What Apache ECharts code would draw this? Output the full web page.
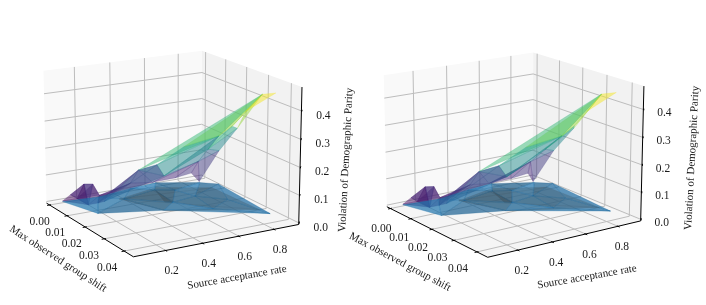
<!DOCTYPE html>
<html><head><meta charset="utf-8">
<style>html,body{margin:0;padding:0;background:#fff}#c{width:706px;height:305px}</style>
<script src="https://cdn.jsdelivr.net/npm/echarts@6/dist/echarts.min.js"></script>
</head><body><div id="c"></div>
<script>
// ---- data ----
const shiftTicks = [0, 0.01, 0.02, 0.03, 0.04];
const rateTicks = [0.2, 0.4, 0.6, 0.8];
const parityTicks = [0, 0.1, 0.2, 0.3, 0.4];
const shiftLabels = ['0.00', '0.01', '0.02', '0.03', '0.04'];
const rateLabels = ['0.2', '0.4', '0.6', '0.8'];
const parityLabels = ['0.0', '0.1', '0.2', '0.3', '0.4'];
const shiftLabelText = 'Max observed group shift';
const rateLabelText = 'Source acceptance rate';
const parityLabelText = 'Violation of Demographic Parity';
// viridis surface nodes
const shiftUpper = [0.0003,0.0021,0.0019,0.0059,0.0070,0.0063,0.0079,0.0069,0.0083,0.0091,0.0124,0.0189,0.0232,0.0308,0.0361,0.0050,0.0109,0.0196,0.0114,0.0320,0.0220,0.0069,0.0034,0.0113,0.0154,0.0326,0.0336,0.0000];
const rateUpper  = [0.100,0.128,0.167,0.167,0.205,0.249,0.224,0.180,0.276,0.397,0.408,0.441,0.544,0.900,0.908,0.850,0.898,0.898,0.224,0.637,0.446,0.681,0.588,0.727,0.777,0.705,0.769,0.903];
const parityUpper= [0.002,0.030,0.010,0.080,0.080,0.030,0.010,0.005,0.040,0.070,0.130,0.170,0.240,0.420,0.440,0.010,0.146,0.260,0.030,0.300,0.140,0.050,0.030,0.080,0.180,0.330,0.380,0.065];
const trianglesUpper = [[0,1,2],[0,2,7],[2,3,7],[2,3,7],[1,3,2],[1,3,7],[3,4,7],[3,4,7],[4,5,7],[4,5,2],[5,6,7],[5,8,6],[8,18,6],[5,9,8],[5,9,6],[8,10,18],[8,9,10],[9,22,8],[10,11,18],[11,20,18],[9,22,10],[10,22,20],[10,20,11],[22,21,27],[21,23,27],[23,15,27],[27,15,16],[27,16,24],[16,17,24],[24,17,25],[17,13,26],[22,27,20],[20,27,19],[20,19,24],[24,25,19],[10,13,19],[11,12,19],[12,13,19],[20,11,19],[19,13,25],[25,13,26],[13,14,26]];
// blue surface nodes
const shiftLower = [0.0003,0.0137,0.0198,0.0350,0.0093,0.0068,0.0021,0.0031,0.0035,0.0085,0.0074,0.0149,0.0152,0.0249,0.0208,0.0082];
const rateLower  = [0.100,0.163,0.470,0.902,0.915,0.831,0.620,0.460,0.271,0.366,0.555,0.577,0.704,0.694,0.830,0.667];
const parityLower= [0.000,0.002,0.002,0.000,0.010,0.015,0.020,0.020,0.010,0.012,0.020,0.000,0.010,0.002,0.005,0.010];
const trianglesLower = [[0,1,8],[1,9,8],[1,2,9],[8,9,7],[7,9,10],[7,10,6],[9,11,10],[9,2,11],[10,11,15],[6,10,15],[6,15,5],[11,12,15],[15,12,5],[5,12,4],[2,13,11],[11,13,12],[12,14,4],[12,13,14],[14,3,4],[13,3,14],[2,3,13]];
// low sheet seen through the blue surface
const shiftBase = [0.0065,0.0207,0.0317,0.0102,0.0026,0.0052,0.0162,0.0147];
const rateBase  = [0.360,0.470,0.881,0.868,0.615,0.587,0.563,0.533];
const parityBase= [0.004,0.004,0.004,0.004,0.004,0.005,0.005,0.005];
const trianglesBase = [[0,1,2],[0,2,3],[0,3,4],[5,6,7],[5,6,7]];
const viridisStops = ['#440154','#482878','#3e4989','#31688e','#26828e','#1f9e89','#35b779','#6ece58','#b5de2b','#fde725'];
const panels = [
  {elev:16, azim:-30, scale:157, cx:170, cy:147,
   zLab:[22,5], xLabStart:[-10,17], xLabEnd:[-17,17], yLab:[6,21],
   xTitle:[58,259,-33], yTitle:[237,277.5,10], zTitle:[346,160,87]},
  {elev:16, azim:-35, scale:155, cx:512, cy:148,
   zLab:[21,4], xLabStart:[-9,20], xLabEnd:[-19,17], yLab:[4,21],
   xTitle:[400,262,-28], yTitle:[587,277,10], zTitle:[692,158,87]}
];
const xLim = [-0.0018, 0.0445], yLim = [0.03, 0.944], zLim = [-0.006, 0.483];
const fontFamily = '"Liberation Serif", "Times New Roman", serif';

function makeProjector(p) {
  const el = p.elev * Math.PI / 180, az = p.azim * Math.PI / 180;
  const e = [Math.cos(el)*Math.cos(az), Math.cos(el)*Math.sin(az), Math.sin(el)];
  const r = [-Math.sin(az), Math.cos(az), 0];
  const u = [-Math.sin(el)*Math.cos(az), -Math.sin(el)*Math.sin(az), Math.cos(el)];
  const dot = (a,b)=>a[0]*b[0]+a[1]*b[1]+a[2]*b[2];
  return function (x, y, z) {
    const P = [((x-xLim[0])/(xLim[1]-xLim[0])-0.5)*1.19,
               ((y-yLim[0])/(yLim[1]-yLim[0])-0.5)*1.19,
               ((z-zLim[0])/(zLim[1]-zLim[0])-0.5)*0.893];
    const d = dot(P,e), f = 10/(10-d);
    return {sx:p.cx+p.scale*f*dot(P,r), sy:p.cy-p.scale*f*dot(P,u), d};
  };
}
function viridis(t){
  t=Math.max(0,Math.min(1,t))*(viridisStops.length-1);
  const i=Math.min(Math.floor(t),viridisStops.length-2), k=t-i;
  const h=s=>[1,3,5].map(j=>parseInt(s.substr(j,2),16));
  const a=h(viridisStops[i]), b=h(viridisStops[i+1]);
  return a.map((v,j)=>Math.round(v+(b[j]-v)*k));
}
function blueShade(tri){
  const v1=[0,1,2].map(i=>tri[1][i]-tri[0][i]), v2=[0,1,2].map(i=>tri[2][i]-tri[0][i]);
  const n=[v1[1]*v2[2]-v1[2]*v2[1], v1[2]*v2[0]-v1[0]*v2[2], v1[0]*v2[1]-v1[1]*v2[0]];
  const len=Math.hypot(n[0],n[1],n[2])||1;
  if(n[2]<0){n[0]=-n[0];n[1]=-n[1];n[2]=-n[2];}
  const s=(n[0]*-0.667+n[1]*-0.667+n[2]*0.333)/len;
  const k=0.88+0.3*s;
  return [31,119,180].map(v=>Math.min(255,Math.round(v*k)));
}
const items = [];
function addLine(a,b,color,w){items.push({type:'line',a,b,color,w});}
panels.forEach(p=>{
  const pr = makeProjector(p);
  const [x0,x1]=xLim,[y0,y1]=yLim,[z0,z1]=zLim;
  items.push({type:'poly',pts:[pr(x0,y0,z0),pr(x1,y0,z0),pr(x1,y1,z0),pr(x0,y1,z0)],fill:'#f5f5f5',op:1});
  items.push({type:'poly',pts:[pr(x0,y0,z0),pr(x0,y1,z0),pr(x0,y1,z1),pr(x0,y0,z1)],fill:'#f9f9f9',op:1});
  items.push({type:'poly',pts:[pr(x0,y1,z0),pr(x1,y1,z0),pr(x1,y1,z1),pr(x0,y1,z1)],fill:'#f2f2f2',op:1});
  const G='#bdbdbd';
  shiftTicks.forEach(t=>{addLine(pr(t,y0,z0),pr(t,y1,z0),G,1);addLine(pr(t,y1,z0),pr(t,y1,z1),G,1);});
  rateTicks.forEach(t=>{addLine(pr(x1,t,z0),pr(x0,t,z0),G,1);addLine(pr(x0,t,z0),pr(x0,t,z1),G,1);});
  parityTicks.forEach(t=>{addLine(pr(x0,y0,t),pr(x0,y1,t),G,1);addLine(pr(x0,y1,t),pr(x1,y1,t),G,1);});
  addLine(pr(x0,y0,z0),pr(x1,y0,z0),'#000',1);
  addLine(pr(x1,y0,z0),pr(x1,y1,z0),'#000',1);
  addLine(pr(x1,y1,z0),pr(x1,y1,z1),'#000',1);
  const dy=(y1-y0)*0.015, dx=(x1-x0)*0.015;
  shiftTicks.forEach(t=>addLine(pr(t,y0+dy*0.6,z0),pr(t,y0-dy,z0),'#000',1));
  rateTicks.forEach(t=>addLine(pr(x1-dx*0.6,t,z0),pr(x1+dx,t,z0),'#000',1));
  parityTicks.forEach(t=>addLine(pr(x1+dx,y1-dy*0.6,t),pr(x1-dx,y1+dy,t),'#000',1));
  const sheet=(X,Y,Z,T,colorOf,op)=>{
    T.map(tr=>{
      const t=tr.map(i=>[X[i],Y[i],Z[i]]);
      const pts=t.map(q=>pr(q[0],q[1],q[2]));
      return {t,pts,d:(pts[0].d+pts[1].d+pts[2].d)/3};
    }).sort((a,b)=>a.d-b.d).forEach(f=>{
      items.push({type:'poly',pts:f.pts,fill:colorOf(f.t),op,edge:true});
    });
  };
  sheet(shiftBase,rateBase,parityBase,trianglesBase,()=>'170,95,40',0.5);
  sheet(shiftUpper,rateUpper,parityUpper,trianglesUpper,t=>viridis((t[0][2]+t[1][2]+t[2][2])/3/0.42).join(','),0.5);
  sheet(shiftLower,rateLower,parityLower,trianglesLower,t=>blueShade(t).join(','),0.7);
  const txt=(text,x,y,rot)=>items.push({type:'text',text,x,y,rot:rot||0,size:rot?11:11.5});
  shiftTicks.forEach((t,i)=>{const q=pr(t,y0,z0),k=i/(shiftTicks.length-1);
    txt(shiftLabels[i],q.sx+p.xLabStart[0]+(p.xLabEnd[0]-p.xLabStart[0])*k,q.sy+p.xLabStart[1]+(p.xLabEnd[1]-p.xLabStart[1])*k);});
  rateTicks.forEach((t,i)=>{const q=pr(x1,t,z0);txt(rateLabels[i],q.sx+p.yLab[0],q.sy+p.yLab[1]);});
  parityTicks.forEach((t,i)=>{const q=pr(x1,y1,t);txt(parityLabels[i],q.sx+p.zLab[0],q.sy+p.zLab[1]);});
  txt(shiftLabelText,...p.xTitle);
  txt(rateLabelText,...p.yTitle);
  txt(parityLabelText,...p.zTitle);
});

function renderItem(params, api){
  const it=items[params.dataIndex];
  const C=q=>api.coord([q.sx,q.sy]);
  if(it.type==='poly'){
    const color=it.fill[0]==='#'?it.fill:'rgb('+it.fill+')';
    return {type:'polygon',shape:{points:it.pts.map(C)},
      style:{fill:color,opacity:it.op,stroke:it.edge?color:null,lineWidth:it.edge?0.4:0}};
  }
  if(it.type==='line'){
    const a=C(it.a),b=C(it.b);
    return {type:'line',shape:{x1:a[0],y1:a[1],x2:b[0],y2:b[1]},style:{stroke:it.color,lineWidth:it.w}};
  }
  const c=api.coord([it.x,it.y]);
  return {type:'text',x:c[0],y:c[1],rotation:it.rot*Math.PI/180,
    style:{text:it.text,fill:'#1a1a1a',align:'center',verticalAlign:'middle',
      font:it.size+'px '+fontFamily}};
}
const chart=echarts.init(document.getElementById('c'),null,{renderer:'canvas'});
chart.setOption({
  animation:false,backgroundColor:'#fff',
  grid:{left:0,right:0,top:0,bottom:0},
  xAxis:{type:'value',min:0,max:706,show:false},
  yAxis:{type:'value',min:0,max:305,inverse:true,show:false},
  series:[{type:'custom',silent:true,renderItem,
    data:items.map((it,i)=>[i,0]),encode:{x:0,y:1}}]
});
</script></body></html>
